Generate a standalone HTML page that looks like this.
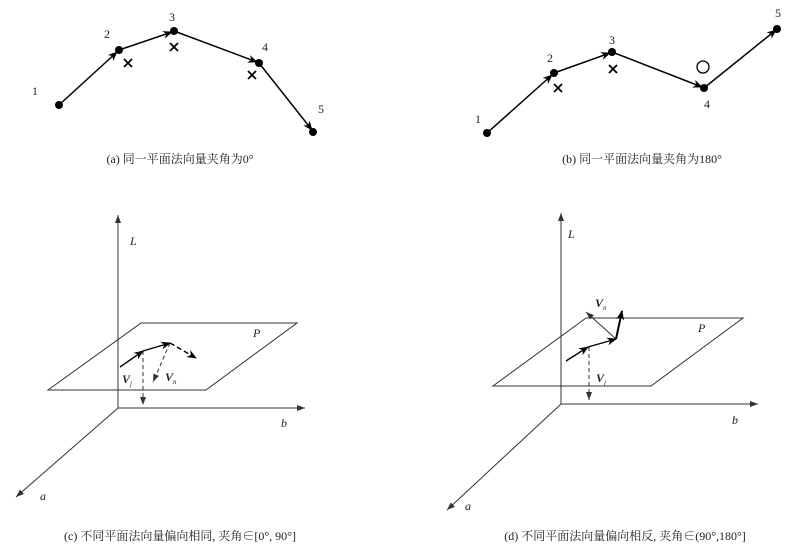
<!DOCTYPE html>
<html><head><meta charset="utf-8"><style>
body{margin:0;background:#fff}
svg{display:block}
text{font-family:"Liberation Serif","Noto Serif CJK SC",serif;fill:#222}
</style></head><body>
<svg width="800" height="553" viewBox="0 0 800 553">
<defs>
<marker id="ar" markerWidth="10" markerHeight="8" refX="9" refY="4" orient="auto" markerUnits="userSpaceOnUse"><path d="M0,0 L10,4 L0,8 L3,4z" fill="#000"/></marker>
<marker id="sa" markerWidth="8" markerHeight="6" refX="8" refY="3" orient="auto" markerUnits="userSpaceOnUse"><path d="M0,0 L8,3 L0,6z" fill="#333"/></marker>
</defs>
<g stroke="#000" stroke-width="1.5" fill="none">
<line x1="59" y1="105" x2="117" y2="52" marker-end="url(#ar)"/>
<line x1="119" y1="50" x2="172" y2="32" marker-end="url(#ar)"/>
<line x1="174" y1="31" x2="257" y2="62" marker-end="url(#ar)"/>
<line x1="259" y1="63" x2="312" y2="130" marker-end="url(#ar)"/>
<line x1="487" y1="133" x2="552" y2="75" marker-end="url(#ar)"/>
<line x1="554" y1="73" x2="610" y2="53" marker-end="url(#ar)"/>
<line x1="612" y1="52" x2="702" y2="87" marker-end="url(#ar)"/>
<line x1="704" y1="88" x2="776" y2="30" marker-end="url(#ar)"/>
</g>
<g fill="#000">
<circle cx="59" cy="105" r="4"/><circle cx="119" cy="50" r="4"/><circle cx="174" cy="31" r="4"/><circle cx="259" cy="63" r="4"/><circle cx="313" cy="132" r="4"/>
<circle cx="487" cy="133" r="4"/><circle cx="554" cy="73" r="4"/><circle cx="612" cy="52" r="4"/><circle cx="704" cy="88" r="4"/><circle cx="777" cy="29" r="4"/>
</g>
<circle cx="703" cy="67" r="6" fill="none" stroke="#000" stroke-width="1.3"/>
<g stroke="#000" stroke-width="1.8">
<path d="M124,59 l8,8 M132,59 l-8,8"/>
<path d="M170,43 l8,8 M178,43 l-8,8"/>
<path d="M248,71 l8,8 M256,71 l-8,8"/>
<path d="M554,84 l8,8 M562,84 l-8,8"/>
<path d="M609,65 l8,8 M617,65 l-8,8"/>
</g>
<g font-size="12" text-anchor="middle">
<text x="35" y="95">1</text><text x="107" y="38">2</text><text x="172" y="21">3</text><text x="265" y="51">4</text><text x="321" y="113">5</text>
<text x="478" y="123">1</text><text x="550" y="62">2</text><text x="612" y="44">3</text><text x="707" y="108">4</text><text x="778" y="17">5</text>
</g>
<g font-size="12" text-anchor="middle">
<text x="180" y="163">(a) 同一平面法向量夹角为0°</text>
<text x="642" y="163">(b) 同一平面法向量夹角为180°</text>
<text x="180" y="540">(c) 不同平面法向量偏向相同, 夹角∈[0°, 90°]</text>
<text x="625" y="540">(d) 不同平面法向量偏向相反, 夹角∈(90°,180°]</text>
</g>
<g stroke="#333" stroke-width="1" fill="none">
<line x1="118" y1="408" x2="118" y2="215" marker-end="url(#sa)"/>
<line x1="118" y1="408" x2="305" y2="408" marker-end="url(#sa)"/>
<line x1="118" y1="408" x2="16" y2="497" marker-end="url(#sa)"/>
<polygon points="141,323 297,323 206,390 48,390"/>
<line x1="143" y1="351" x2="143" y2="405" stroke-dasharray="4,3" marker-end="url(#sa)"/>
<line x1="170" y1="343" x2="153" y2="382" stroke-dasharray="4,3" marker-end="url(#sa)"/>
<line x1="170" y1="343" x2="196" y2="358" stroke="#000" stroke-width="1.4" stroke-dasharray="5,3" marker-end="url(#ar)"/>
<line x1="120" y1="367" x2="143" y2="351" stroke="#000" stroke-width="1.4" marker-end="url(#ar)"/>
<line x1="143" y1="351" x2="170" y2="343" stroke="#000" stroke-width="1.4" marker-end="url(#ar)"/>
</g>
<g stroke="#333" stroke-width="1" fill="none">
<line x1="561" y1="404" x2="561" y2="213" marker-end="url(#sa)"/>
<line x1="561" y1="404" x2="758" y2="404" marker-end="url(#sa)"/>
<line x1="561" y1="404" x2="447" y2="510" marker-end="url(#sa)"/>
<polygon points="586,318 743,318 651,386 493,386"/>
<line x1="589" y1="347" x2="589" y2="400" stroke-dasharray="4,3" marker-end="url(#sa)"/>
<line x1="616" y1="339" x2="586" y2="312" marker-end="url(#sa)"/>
<line x1="566" y1="361" x2="588" y2="347" stroke="#000" stroke-width="1.4" marker-end="url(#ar)"/>
<line x1="588" y1="347" x2="616" y2="339" stroke="#000" stroke-width="1.4" marker-end="url(#ar)"/>
<line x1="616" y1="339" x2="622" y2="311" stroke="#000" stroke-width="2" marker-end="url(#ar)"/>
</g>
<g font-size="12" font-style="italic">
<text x="130" y="245">L</text><text x="281" y="427">b</text><text x="40" y="500">a</text><text x="253" y="337">P</text>
<text x="568" y="238">L</text><text x="732" y="424">b</text><text x="465" y="510">a</text><text x="698" y="332">P</text>
</g>
<g font-size="12" font-weight="bold" font-style="italic">
<text x="122" y="383">V<tspan font-size="7" font-weight="normal" dy="3">j</tspan></text>
<text x="165" y="381">V<tspan font-size="7" font-weight="normal" dy="3">n</tspan></text>
<text x="596" y="382">V<tspan font-size="7" font-weight="normal" dy="3">j</tspan></text>
<text x="595" y="307">V<tspan font-size="7" font-weight="normal" dy="3">n</tspan></text>
</g>
</svg>
</body></html>
